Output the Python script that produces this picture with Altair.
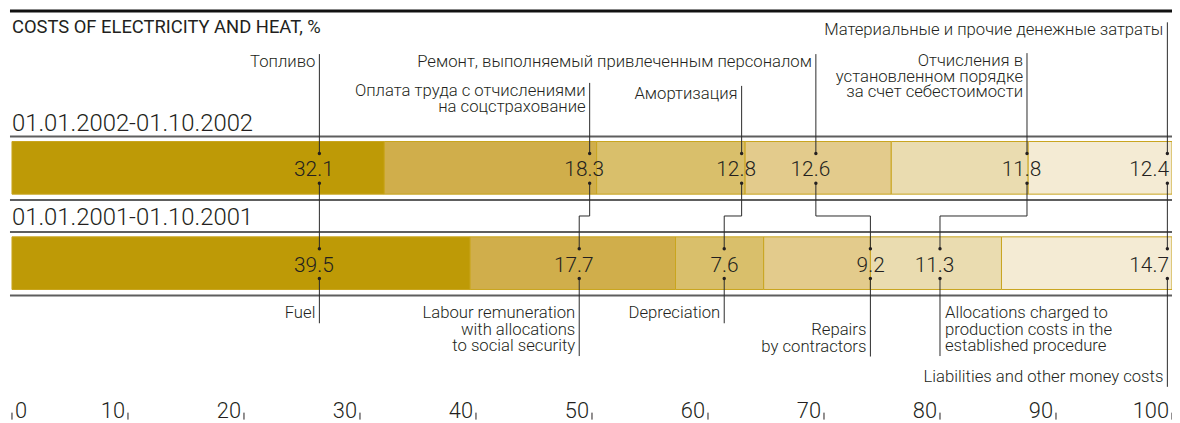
import altair as alt
import pandas as pd

# ---------------- data ----------------
categories = ["fuel", "labour", "depreciation", "repairs", "allocations", "liabilities"]
periods = ["01.01.2002-01.10.2002", "01.01.2001-01.10.2001"]
values_2002 = [32.1, 18.3, 12.8, 12.6, 11.8, 12.4]
values_2001 = [39.5, 17.7, 7.6, 9.2, 11.3, 14.7]
labels_ru = [
    ["Топливо"],
    ["Оплата труда с отчислениями", "на соцстрахование"],
    ["Амортизация"],
    ["Ремонт, выполняемый привлеченным персоналом"],
    ["Отчисления в", "установленном порядке", "за счет себестоимости"],
    ["Материальные и прочие денежные затраты"],
]
labels_en = [
    ["Fuel"],
    ["Labour remuneration", "with allocations", "to social security"],
    ["Depreciation"],
    ["Repairs", "by contractors"],
    ["Allocations charged to", "production costs in the", "established procedure"],
    ["Liabilities and other money costs"],
]
title_text = "COSTS  OF ELECTRICITY AND HEAT, %"
tick_values = [0, 10, 20, 30, 40, 50, 60, 70, 80, 90, 100]
tick_labels = ["0", "10", "20", "30", "40", "50", "60", "70", "80", "90", "100"]

# ---------------- layout / style ----------------
colors = ["#BE9A06", "#D0AE4B", "#D9BF6B", "#E3CB8C", "#EADCB0", "#F4EBD4"]
W, H = 1168, 415
FONT = "Roboto, Liberation Sans, Arial, sans-serif"
FW = 300
INK = "#231f20"
# leader-line anchors in % units of the x scale
anchor_top = [26.5, 49.8, 62.9, 69.3, 87.5, 99.6]
anchor_bot = [26.5, 48.9, 61.4, 74.0, 80.0, 99.6]
# where the decimal point of each value label sits (last one is pushed inside the edge)
num_top = [26.5, 49.8, 62.9, 69.3, 87.5, 98.5]
num_bot = [26.5, 48.9, 61.4, 74.0, 80.0, 98.5]
ru_first_base = [58, 87, 90, 58, 57, 26]
en_first_base = [311, 311, 311, 328, 311, 375]
en_align = ["right", "right", "right", "right", "left", "right"]
RU_LH = 15.8
EN_LH = 16.5
LAB_FS = 16.8
bar_rows = {periods[0]: (133, 186), periods[1]: (229, 282)}
date_base = [122, 217]
sep_lines = [128, 192, 224, 288]
num_base = [168, 264]
dot_top = [145, 241]
dot_bot = [175, 271]
ELBOW = 208

X = alt.Scale(domain=[0, 100], nice=False, zero=False)
Y = alt.Scale(domain=[0, H], range=[0, H], nice=False, zero=False)


def xq(f):
    return alt.X(f, type="quantitative", scale=X, axis=None)


def yq(f):
    return alt.Y(f, type="quantitative", scale=Y, axis=None)


# bars
rows = []
for p, vals in zip(periods, [values_2002, values_2001]):
    s = 0.0
    for c, v in zip(categories, vals):
        rows.append({"period": p, "cat": c, "value": v, "start": s, "end": s + v,
                     "yt": bar_rows[p][0], "yb": bar_rows[p][1]})
        s += v
bars_df = pd.DataFrame(rows)

bars = alt.Chart(bars_df).mark_rect(stroke="#C9A41E", strokeWidth=1).encode(
    x=xq("start"), x2="end", y=yq("yt"), y2="yb",
    color=alt.Color("cat:N", scale=alt.Scale(domain=categories, range=colors), legend=None),
)

# separator lines
sep = alt.Chart(pd.DataFrame({"y": sep_lines})).mark_rule(color="#5e5e5e", strokeWidth=2).encode(
    x=alt.value(-2), x2=alt.value(W), y=yq("y"))
top_rule = alt.Chart(pd.DataFrame({"y": [1.5]})).mark_rule(color="#111111", strokeWidth=3).encode(
    x=alt.value(-2), x2=alt.value(W), y=yq("y"))

# leader segments
segs = []
dots = []
for i in range(len(categories)):
    xa, xb = anchor_top[i], anchor_bot[i]
    top_start = ru_first_base[i] - 13
    bot_end = en_first_base[i] + EN_LH * (len(labels_en[i]) - 1) + 5
    segs.append({"x": xa, "x2": xa, "y": top_start, "y2": dot_top[0]})
    segs.append({"x": xa, "x2": xa, "y": dot_bot[0], "y2": ELBOW})
    segs.append({"x": xa, "x2": xb, "y": ELBOW, "y2": ELBOW})
    segs.append({"x": xb, "x2": xb, "y": ELBOW, "y2": dot_top[1]})
    segs.append({"x": xb, "x2": xb, "y": dot_bot[1], "y2": bot_end})
    dots += [{"x": xa, "y": dot_top[0]}, {"x": xa, "y": dot_bot[0]},
             {"x": xb, "y": dot_top[1]}, {"x": xb, "y": dot_bot[1]}]
leaders = alt.Chart(pd.DataFrame(segs)).mark_rule(color="#2a2a2a", strokeWidth=1).encode(
    x=xq("x"), x2="x2", y=yq("y"), y2="y2")
dot_layer = alt.Chart(pd.DataFrame(dots)).mark_circle(size=12, color=INK, opacity=1).encode(
    x=xq("x"), y=yq("y"))

# numbers (decimal point aligned on leader)
nums = []
for r, (vals, anchors) in enumerate([(values_2002, num_top), (values_2001, num_bot)]):
    for v, a in zip(vals, anchors):
        ip, fp = f"{v:.1f}".split(".")
        nums.append({"x": a, "y": num_base[r], "ip": ip + ".", "fp": fp})
nums_df = pd.DataFrame(nums)
num_style = dict(fontSize=21, font=FONT, fontWeight=FW, color=INK, baseline="alphabetic")
num_i = alt.Chart(nums_df).mark_text(align="right", dx=2.8, **num_style).encode(
    x=xq("x"), y=yq("y"), text="ip:N")
num_f = alt.Chart(nums_df).mark_text(align="left", dx=2.8, **num_style).encode(
    x=xq("x"), y=yq("y"), text="fp:N")

# category labels (multi-line blocks)
ru_rows, en_r, en_l = [], [], []
for i in range(len(categories)):
    ru_rows.append({"x": anchor_top[i], "y": ru_first_base[i], "t": labels_ru[i]})
    row = {"x": anchor_bot[i], "y": en_first_base[i], "t": labels_en[i]}
    (en_l if en_align[i] == "left" else en_r).append(row)
lab_style = dict(fontSize=LAB_FS, font=FONT, fontWeight=FW, color=INK, baseline="alphabetic")
ru_text = alt.Chart(pd.DataFrame(ru_rows)).mark_text(
    align="right", dx=-4, lineHeight=RU_LH, **lab_style).encode(
    x=xq("x"), y=yq("y"), text="t")
en_text_r = alt.Chart(pd.DataFrame(en_r)).mark_text(
    align="right", dx=-4, lineHeight=EN_LH, **lab_style).encode(
    x=xq("x"), y=yq("y"), text="t")
en_text_l = alt.Chart(pd.DataFrame(en_l)).mark_text(
    align="left", dx=5, lineHeight=EN_LH, **lab_style).encode(
    x=xq("x"), y=yq("y"), text="t")

# title and period labels
title = alt.Chart(pd.DataFrame({"t": [title_text], "y": [24]})).mark_text(
    align="left", baseline="alphabetic", fontSize=18.5, font=FONT, fontWeight=400, color=INK).encode(
    x=alt.value(0), y=yq("y"), text="t:N")
dates = alt.Chart(pd.DataFrame({"t": periods, "y": date_base})).mark_text(
    align="left", baseline="alphabetic", fontSize=24, font=FONT, fontWeight=FW, color=INK).encode(
    x=alt.value(0), y=yq("y"), text="t:N")

# axis
ax_df = pd.DataFrame({"v": tick_values, "t": tick_labels, "y": [411] * len(tick_values),
                      "y1": [406] * len(tick_values), "y2": [413] * len(tick_values)})
ticks = alt.Chart(ax_df).mark_rule(color=INK, strokeWidth=1).encode(
    x=xq("v"), y=yq("y1"), y2="y2")
ax_lab_style = dict(fontSize=22, font=FONT, fontWeight=FW, color=INK, baseline="alphabetic")
ax_r = alt.Chart(ax_df).transform_filter("datum.v > 0").mark_text(align="right", dx=-3, **ax_lab_style).encode(
    x=xq("v"), y=yq("y"), text="t:N")
ax_l = alt.Chart(ax_df).transform_filter("datum.v == 0").mark_text(align="left", dx=3, **ax_lab_style).encode(
    x=xq("v"), y=yq("y"), text="t:N")

chart = alt.layer(
    bars, sep, top_rule, leaders, dot_layer, num_i, num_f, ru_text, en_text_r, en_text_l,
    title, dates, ticks, ax_r, ax_l,
).properties(
    width=W, height=H,
    autosize=alt.AutoSizeParams(type="none"),
    padding={"left": 4, "top": 0, "right": 0, "bottom": 0},
    background="white",
).configure_view(stroke=None)

chart.save("out.html", embed_options={"renderer": "svg", "actions": False})
